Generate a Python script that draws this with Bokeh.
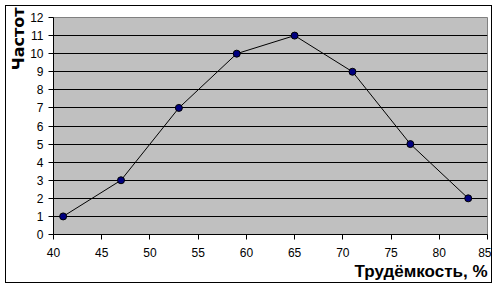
from bokeh.plotting import figure
from bokeh.models import FixedTicker, Title
from bokeh.embed import file_html
from bokeh.resources import INLINE

# Data
x_values = [41, 47, 53, 59, 65, 71, 77, 83]
y_values = [1, 3, 7, 10, 11, 9, 5, 2]
x_ticks = [40, 45, 50, 55, 60, 65, 70, 75, 80, 85]
y_ticks = list(range(0, 13))
x_title = "Трудёмкость, %"
y_title = "Частот"

W, H = 487, 278
p = figure(width=W, height=H, x_range=(40, 85), y_range=(0, 12),
           output_backend="svg", toolbar_location=None,
           min_border_left=10, min_border_right=6,
           min_border_top=11, min_border_bottom=50)
p.styles = {"border": "1px solid black", "margin": "5px 0 0 5px"}

p.background_fill_color = "#C0C0C0"
p.border_fill_color = "white"
p.outline_line_color = "#808080"

p.xgrid.visible = False
p.ygrid.grid_line_color = "black"
p.ygrid.grid_line_width = 1
p.ygrid.ticker = FixedTicker(ticks=y_ticks)

for ax in (p.xaxis, p.yaxis):
    ax.axis_line_color = "black"
    ax.major_tick_line_color = "black"
    ax.major_tick_in = 0
    ax.major_tick_out = 5
    ax.minor_tick_line_color = None
    ax.major_label_text_font = "Liberation Sans"
    ax.major_label_text_font_size = "12px"
    ax.major_label_text_color = "black"

p.xaxis.ticker = FixedTicker(ticks=x_ticks)
p.yaxis.ticker = FixedTicker(ticks=y_ticks)
p.xaxis.major_label_standoff = 8
p.yaxis.major_label_standoff = 5

p.line(x_values, y_values, line_color="black", line_width=1)
p.scatter(x_values, y_values, size=7, fill_color="#000080", line_color="black", line_width=1)

p.add_layout(Title(text=x_title, align="right", text_font="Liberation Sans",
                   text_font_style="bold", text_font_size="17px",
                   text_color="black", standoff=0, text_line_height=1.0), "below")
p.add_layout(Title(text=y_title, align="right", text_font="DejaVu Sans",
                   text_font_style="bold", text_font_size="16px",
                   text_color="black", standoff=0, offset=-10), "left")

open("out.html", "w").write(file_html(p, INLINE))
